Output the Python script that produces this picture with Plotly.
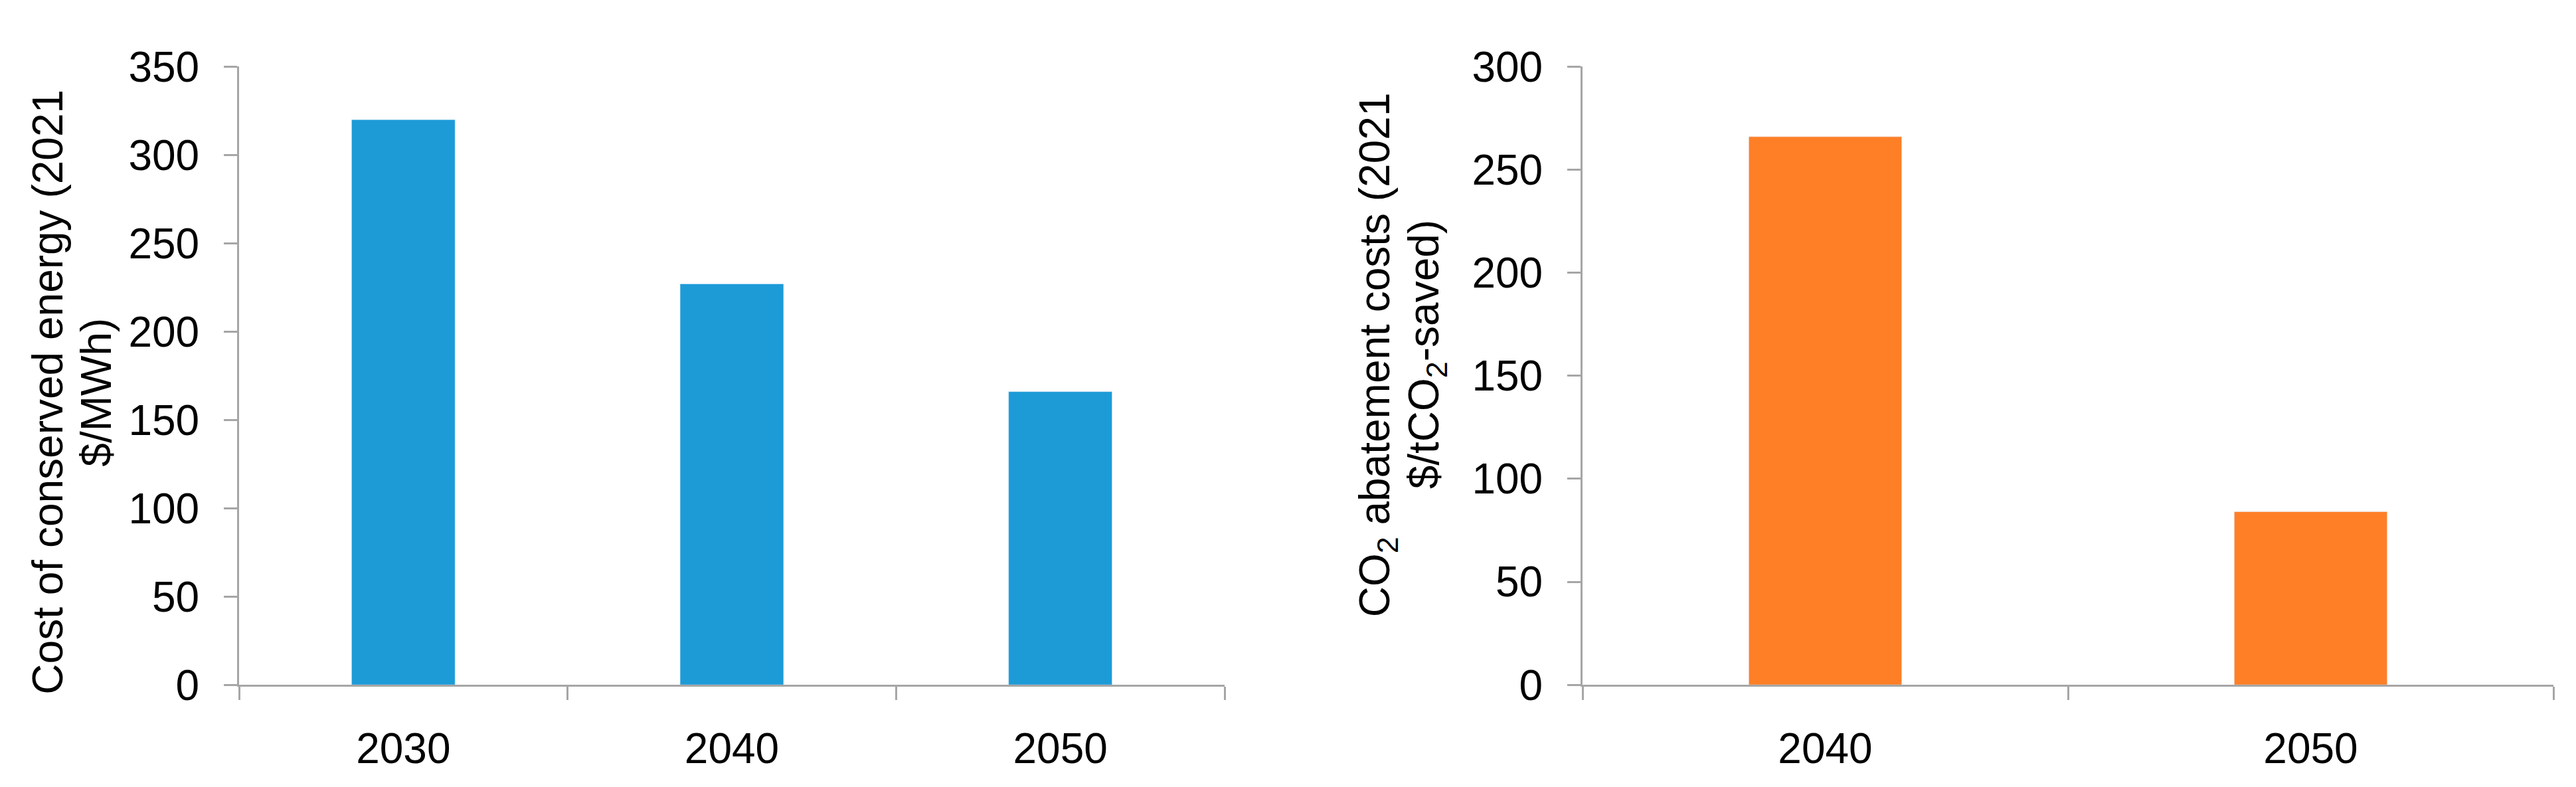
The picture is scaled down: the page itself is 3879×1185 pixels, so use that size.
import plotly.graph_objects as go

# left panel: cost of conserved energy
energy_years = ["2030", "2040", "2050"]
energy_cost = [320, 227, 166]

# right panel: CO2 abatement costs
abatement_years = ["2040", "2050"]
abatement_cost = [266, 84]

left_title = ["Cost of conserved energy (2021", "$/MWh)"]
right_title = ["CO<sub>2</sub> abatement costs (2021", "$/tCO<sub>2</sub>-saved)"]

W, H = 3879, 1185
FONT = dict(family="Arial, Liberation Sans, sans-serif", size=64, color="black")
AXIS_GREY = "#A6A6A6"

fig = go.Figure()
fig.add_trace(go.Bar(x=energy_years, y=energy_cost, marker_color="#1D9BD7",
                     xaxis="x", yaxis="y"))
fig.add_trace(go.Bar(x=abatement_years, y=abatement_cost, marker_color="#FF7F27",
                     xaxis="x2", yaxis="y2"))

xcommon = dict(showline=True, linecolor=AXIS_GREY, linewidth=3, ticks="outside",
               tickson="boundaries", ticklen=20, tickwidth=3, tickcolor=AXIS_GREY,
               showgrid=False, zeroline=False, tickfont=FONT, ticklabelstandoff=38)
ycommon = dict(showline=True, linecolor=AXIS_GREY, linewidth=3, ticks="outside",
               ticklen=20, tickwidth=3, tickcolor=AXIS_GREY, showgrid=False,
               zeroline=False, tickfont=FONT, dtick=50, ticklabelstandoff=24)

ybot, ytop = (H - 1051) / H, (H - 60) / H
fig.update_layout(
    width=W, height=H,
    margin=dict(l=0, r=0, t=0, b=0),
    paper_bgcolor="white", plot_bgcolor="white",
    showlegend=False, bargap=0.685, font=FONT,
    xaxis=dict(domain=[352 / W, 1836 / W], anchor="y", **xcommon),
    yaxis=dict(domain=[ybot, ytop], anchor="x", range=[0, 350], **ycommon),
    xaxis2=dict(domain=[2375 / W, 3837 / W], anchor="y2", **xcommon),
    yaxis2=dict(domain=[ybot, ytop], anchor="x2", range=[0, 300], **ycommon),
)

# two-line rotated axis titles, placed as separate lines
for lines, xs, yc in [(left_title, [64, 137], 582), (right_title, [2066, 2140], 522)]:
    for text, xc in zip(lines, xs):
        fig.add_annotation(text=text, textangle=-90, xref="paper", yref="paper",
                           x=xc / W, y=(H - yc) / H, xanchor="center", yanchor="middle",
                           showarrow=False, font=FONT)

fig.write_html("out.html")
